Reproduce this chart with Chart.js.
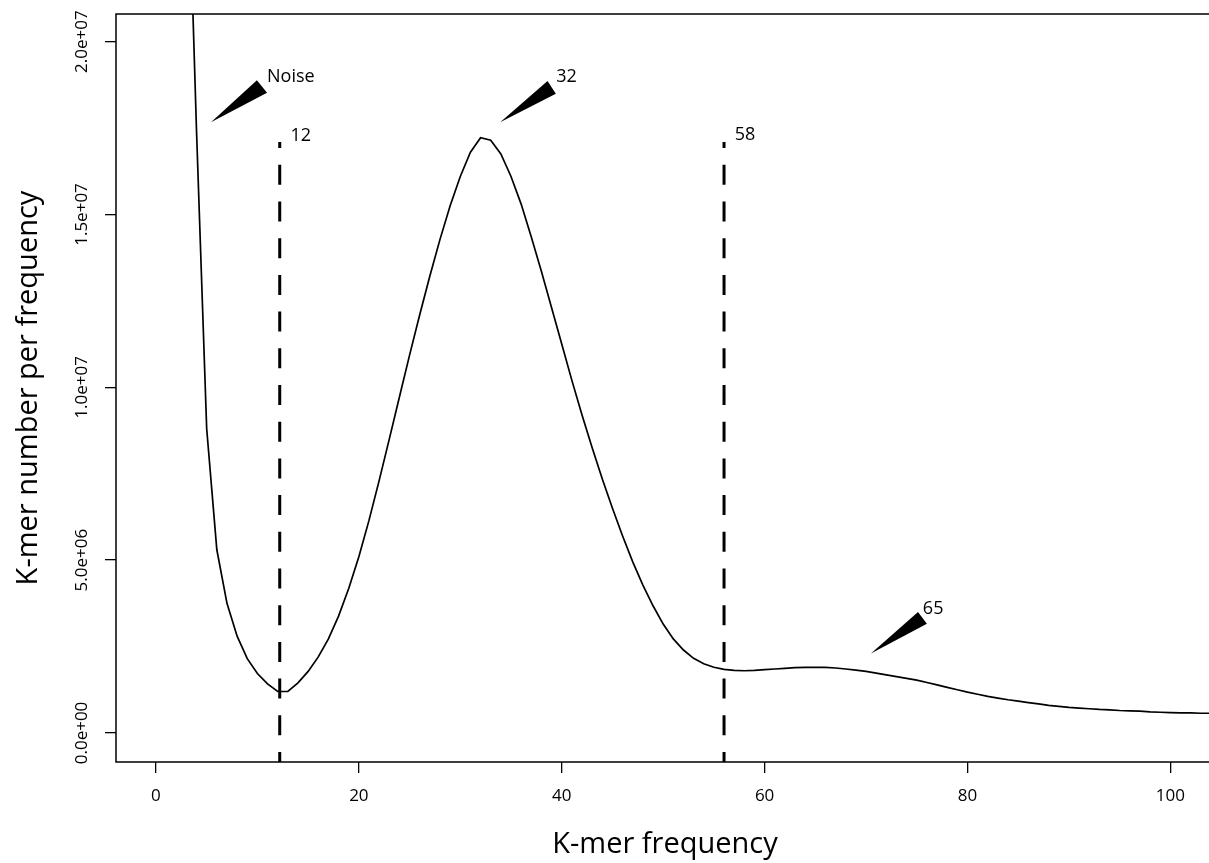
<!DOCTYPE html>
<html>
<head>
<meta charset="utf-8">
<title>K-mer frequency distribution</title>
<script src="https://cdn.jsdelivr.net/npm/chart.js@4.4.0/dist/chart.umd.min.js"></script>
<style>
  html, body { margin: 0; padding: 0; background: #fff; overflow: hidden; }
  #wrap { width: 1214px; height: 863px; }
</style>
</head>
<body>
<div id="wrap"><canvas id="kmerChart" width="1214" height="863"></canvas></div>
<script>
// k-mer depth (x) and number of k-mers at that depth, in millions (y)
const kmerFreq = [
  3, 4, 5, 6, 7, 8, 9, 10, 11, 12, 13, 14, 15, 16, 17, 18, 19, 20,
  21, 22, 23, 24, 25, 26, 27, 28, 29, 30, 31, 32, 33, 34, 35, 36, 37, 38, 39, 40,
  41, 42, 43, 44, 45, 46, 47, 48, 49, 50, 51, 52, 53, 54, 55, 56, 57, 58, 59, 60,
  61, 62, 63, 64, 65, 66, 67, 68, 69, 70, 71, 72, 73, 74, 75, 76, 77, 78, 79, 80,
  81, 82, 83, 84, 85, 86, 87, 88, 89, 90, 91, 92, 93, 94, 95, 96, 97, 98, 99, 100,
  101, 102, 103, 104, 105
];
const kmerCountMillions = [
  27.0, 17.4, 8.8, 5.3, 3.75, 2.8, 2.15, 1.72, 1.42, 1.2, 1.2, 1.45, 1.78, 2.2, 2.72, 3.38, 4.18, 5.1,
  6.15, 7.3, 8.5, 9.72, 10.93, 12.1, 13.22, 14.28, 15.25, 16.1, 16.8, 17.22, 17.15, 16.75, 16.1, 15.3, 14.35, 13.35, 12.3, 11.25,
  10.2, 9.2, 8.25, 7.35, 6.5, 5.7, 4.95, 4.28, 3.68, 3.15, 2.72, 2.4, 2.16, 2.0, 1.9, 1.84, 1.81, 1.8, 1.81, 1.83,
  1.85, 1.87, 1.89, 1.9, 1.9, 1.9, 1.88, 1.85, 1.82, 1.78, 1.73, 1.68, 1.63, 1.58, 1.53, 1.46, 1.39, 1.32, 1.25, 1.18,
  1.12, 1.06, 1.01, 0.96, 0.92, 0.88, 0.84, 0.8, 0.77, 0.74, 0.72, 0.7, 0.68, 0.67, 0.65, 0.64, 0.63, 0.61, 0.6, 0.59,
  0.58, 0.58, 0.57, 0.57, 0.56
];

// cut-off lines (dashed) and their top end
const cutoffX = [12.2, 56.0];
const cutoffTop = 17.1e6;
const cutoffLabels = ['12', '58'];

// axis ticks
const xTicks = [0, 20, 40, 60, 80, 100];
const xTickLabels = ['0', '20', '40', '60', '80', '100'];
const yTicks = [0, 5e6, 1e7, 1.5e7, 2e7];
const yTickLabels = ['0.0e+00', '5.0e+06', '1.0e+07', '1.5e+07', '2.0e+07'];

// axis limits
const xMin = -3.94, xMax = 104.3;
const yMin = -0.84e6, yMax = 20.8e6;

// pointer annotations, in data units: tip, two base corners, label anchor
const notes = [
  { text: 'Noise', tip: [5.42, 17.67e6], b1: [9.95, 18.88e6], b2: [10.95, 18.52e6], at: [10.95, 18.97e6] },
  { text: '32', tip: [33.93, 17.67e6], b1: [38.6, 18.86e6], b2: [39.42, 18.49e6], at: [39.45, 18.98e6] },
  { text: '65', tip: [70.48, 2.3e6], b1: [75.12, 3.5e6], b2: [76.0, 3.16e6], at: [75.6, 3.6e6] }
];
const cutoffLabelAt = [[13.25, 17.28e6], [57.05, 17.3e6]];

const FONT = '"Open Sans", "DejaVu Sans", sans-serif';

const points = kmerFreq.map((f, i) => ({ x: f, y: kmerCountMillions[i] * 1e6 }));

const cutoffSets = cutoffX.map((cx) => ({
  data: [{ x: cx, y: yMin }, { x: cx, y: cutoffTop }],
  borderColor: '#000',
  borderWidth: 3,
  borderDash: [20, 16.7],
  borderDashOffset: 10,
  pointRadius: 0,
  borderCapStyle: 'butt'
}));

const framePlugin = {
  id: 'frame',
  afterDraw(chart) {
    const { ctx, chartArea: a, scales: { x, y } } = chart;
    ctx.save();
    ctx.strokeStyle = '#000';
    ctx.lineWidth = 1.5;
    ctx.strokeRect(a.left, a.top, a.right - a.left, a.bottom - a.top);

    // rotated y tick labels, like R's default las=0
    ctx.fillStyle = '#000';
    ctx.font = '17px ' + FONT;
    ctx.textAlign = 'center';
    ctx.textBaseline = 'middle';
    yTicks.forEach((v, i) => {
      ctx.save();
      ctx.translate(a.left - 34, y.getPixelForValue(v));
      ctx.rotate(-Math.PI / 2);
      ctx.fillText(yTickLabels[i], 0, 0);
      ctx.restore();
    });

    // wedge pointers
    ctx.font = '18px ' + FONT;
    ctx.textAlign = 'left';
    notes.forEach((n) => {
      ctx.beginPath();
      ctx.moveTo(x.getPixelForValue(n.tip[0]), y.getPixelForValue(n.tip[1]));
      ctx.lineTo(x.getPixelForValue(n.b1[0]), y.getPixelForValue(n.b1[1]));
      ctx.lineTo(x.getPixelForValue(n.b2[0]), y.getPixelForValue(n.b2[1]));
      ctx.closePath();
      ctx.fill();
      ctx.fillText(n.text, x.getPixelForValue(n.at[0]), y.getPixelForValue(n.at[1]));
    });

    cutoffLabels.forEach((t, i) => {
      ctx.fillText(t, x.getPixelForValue(cutoffLabelAt[i][0]), y.getPixelForValue(cutoffLabelAt[i][1]));
    });
    ctx.restore();
  }
};

new Chart(document.getElementById('kmerChart'), {
  type: 'line',
  data: {
    datasets: [
      {
        data: points,
        borderColor: '#000',
        borderWidth: 1.7,
        pointRadius: 0,
        tension: 0,
        fill: false
      },
      ...cutoffSets
    ]
  },
  options: {
    responsive: false,
    animation: false,
    events: [],
    layout: { padding: { top: 14, left: 0, right: 0, bottom: 0 } },
    plugins: { legend: { display: false }, tooltip: { enabled: false } },
    scales: {
      x: {
        type: 'linear',
        min: xMin,
        max: xMax,
        bounds: 'data',
        afterBuildTicks: (s) => { s.ticks = xTicks.map((v) => ({ value: v })); },
        afterFit: (s) => { s.height = 101; },
        border: { display: false },
        grid: { drawOnChartArea: false, drawTicks: true, tickLength: 11, color: '#000', lineWidth: 1.3 },
        ticks: {
          color: '#000',
          padding: 13,
          maxRotation: 0,
          font: { family: FONT, size: 17 },
          callback: (v) => xTickLabels[xTicks.indexOf(v)]
        },
        title: {
          display: true,
          text: 'K-mer frequency',
          color: '#000',
          font: { family: FONT, size: 29 },
          padding: { top: 0, bottom: 1 }
        }
      },
      y: {
        type: 'linear',
        min: yMin,
        max: yMax,
        bounds: 'data',
        afterBuildTicks: (s) => { s.ticks = yTicks.map((v) => ({ value: v })); },
        afterFit: (s) => { s.width = 116; },
        border: { display: false },
        grid: { drawOnChartArea: false, drawTicks: true, tickLength: 11, color: '#000', lineWidth: 1.3 },
        ticks: { display: false },
        title: {
          display: true,
          text: 'K-mer number per frequency',
          color: '#000',
          font: { family: FONT, size: 29 },
          padding: { top: 11, bottom: 0 }
        }
      }
    }
  },
  plugins: [framePlugin]
});
</script>
</body>
</html>
